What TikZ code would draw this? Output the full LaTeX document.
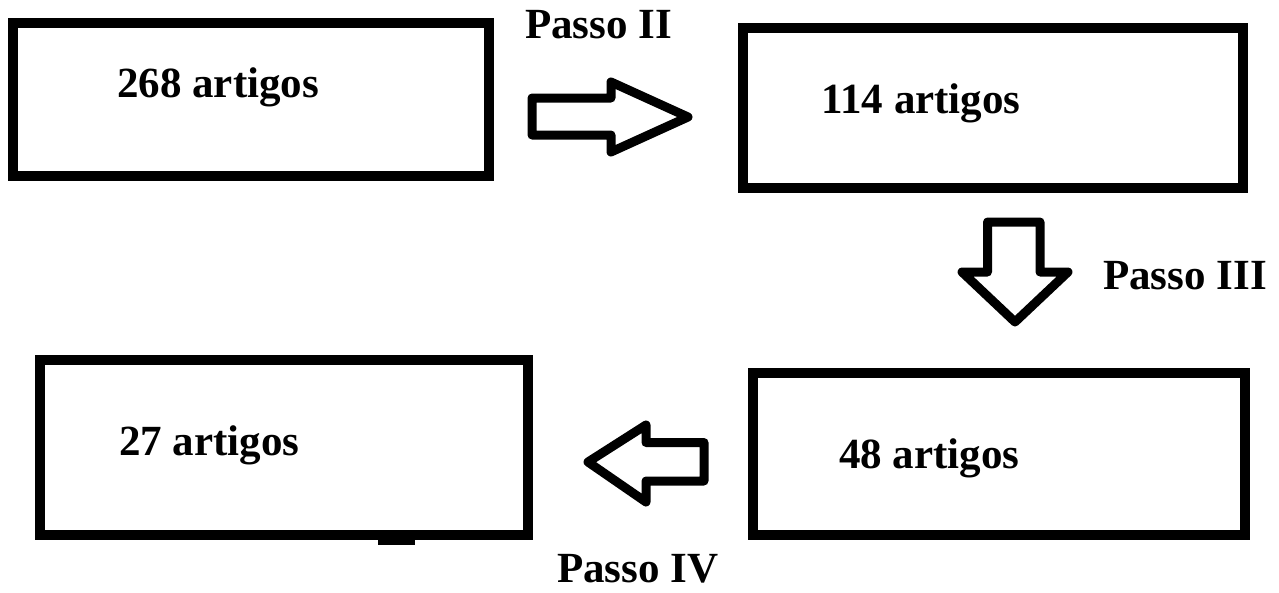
\documentclass[tikz,border=0pt]{standalone}
\usepackage{fontspec}
\setmainfont{Liberation Serif}
\begin{document}
\begin{tikzpicture}[x=1pt,y=-1pt,
  box/.style={draw,line width=10pt,rectangle,inner sep=0pt},
  lbl/.style={anchor=base west,inner sep=0pt,font=\fontsize{43}{50}\selectfont\bfseries},
  blockarrow/.style={draw,line width=9pt,line join=round}]
\useasboundingbox (0,0) rectangle (1279,592);
% boxes
\node[box,minimum width=476pt,minimum height=153pt] (b1) at (251,99.5) {};
\node[box,minimum width=500pt,minimum height=160pt] (b2) at (993,108) {};
\node[box,minimum width=492pt,minimum height=162pt] (b3) at (999,454) {};
\node[box,minimum width=488pt,minimum height=175pt] (b4) at (284,447.5) {};
\fill (378,538) rectangle (415,545);
% texts
\node[lbl] (t1) at (117,97) {268 artigos};
\node[lbl] (t2) at (821,113) {114 artigos};
\node[lbl] (t3) at (839,468) {48 artigos};
\node[lbl] (t4) at (119,455) {27 artigos};
\node[lbl] (p2) at (525,38) {Passo II};
\node[lbl] (p3) at (1103,289) {Passo III};
\node[lbl] (p4) at (557,582) {Passo IV};
% block arrows
\draw[blockarrow] (532,98) -- (611,98) -- (611,82) -- (688,117) -- (611,152) -- (611,135) -- (532,135) -- cycle;
\draw[blockarrow] (987.5,222) -- (1040,222) -- (1040,272) -- (1068,272) -- (1015,322) -- (962,272) -- (987.5,272) -- cycle;
\draw[blockarrow] (704,442.5) -- (646,442.5) -- (646,425) -- (588,462) -- (646,502) -- (646,481) -- (704,481) -- cycle;
\end{tikzpicture}
\end{document}
